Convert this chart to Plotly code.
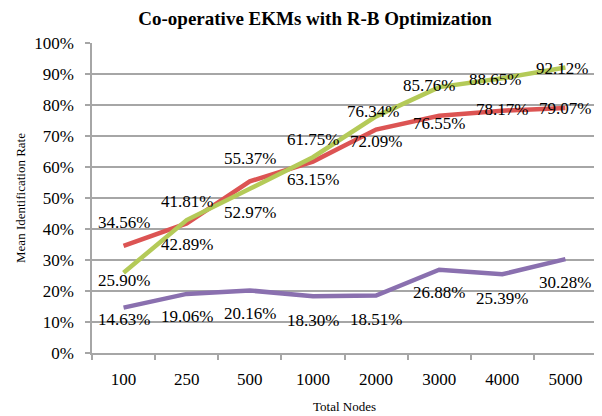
"""Co-operative EKMs with R-B Optimization: mean identification rate by node count"""
import plotly.graph_objects as go

NODES = ["100", "250", "500", "1000", "2000", "3000", "4000", "5000"]
RED_RATE = [34.56, 41.81, 55.37, 61.75, 72.09, 76.55, 78.17, 79.07]
GREEN_RATE = [25.90, 42.89, 52.97, 63.15, 76.34, 85.76, 88.65, 92.12]
PURPLE_RATE = [14.63, 19.06, 20.16, 18.30, 18.51, 26.88, 25.39, 30.28]

# pixel offsets of the data labels (Excel-style placement)
RED_SHIFT = [23, 22, 23, 22, -12, -8, 1, -1]
GREEN_SHIFT = [-8, -24, -24, -22, 5, 2, -1, -1]
PURPLE_SHIFT = [-12, -23, -23, -24, -24, -23, -24, -23]
NO_XSHIFT = [0] * 8
GREEN_XSHIFT = [0, 0, 0, 0, -3, -10, -7, -3]

SERIES = [
    (RED_RATE, RED_SHIFT, NO_XSHIFT, "#DC5453"),
    (GREEN_RATE, GREEN_SHIFT, GREEN_XSHIFT, "#B4CA58"),
    (PURPLE_RATE, PURPLE_SHIFT, NO_XSHIFT, "#8A70AF"),
]

FONT = "Liberation Serif"
GRID = "#A6A6A6"

fig = go.Figure()
annotations = []
for values, shifts, xshifts, color in SERIES:
    ys = [v / 100 for v in values]
    fig.add_trace(
        go.Scatter(
            x=NODES, y=ys, mode="lines",
            line=dict(color=color, width=4.5), showlegend=False,
        )
    )
    # category axis: place labels by category index
    for i, (y, v, s, xs) in enumerate(zip(ys, values, shifts, xshifts)):
        annotations.append(
            dict(
                x=i, y=y, text=f"{v:.2f}%", showarrow=False, yshift=s, xshift=xs,
                font=dict(family=FONT, size=17, color="black"),
            )
        )

# the page body has an 8px margin, so the figure is drawn 8px smaller
fig.update_layout(
    width=594,
    height=408,
    margin=dict(l=84, r=5, t=35, b=63),
    paper_bgcolor="white",
    plot_bgcolor="white",
    title=dict(
        text="<b>Co-operative EKMs with R-B Optimization</b>",
        x=0.517, xanchor="center", y=0.975, yanchor="middle",
        font=dict(family=FONT, size=19, color="black"),
    ),
    annotations=annotations,
    xaxis=dict(
        type="category",
        range=[-0.5, 7.5],
        automargin=False,
        showgrid=False,
        showline=True, linecolor=GRID, linewidth=1.5,
        ticks="outside", tickson="boundaries", ticklen=5, tickcolor=GRID, tickwidth=1.5,
        ticklabelstandoff=10,
        tickfont=dict(family=FONT, size=17, color="black"),
        title=dict(text="Total Nodes", font=dict(family=FONT, size=13, color="black"), standoff=14),
    ),
    yaxis=dict(
        range=[0, 1],
        dtick=0.1,
        tickformat=".0%",
        automargin=False,
        showgrid=True, gridcolor=GRID, gridwidth=1.5,
        showline=True, linecolor=GRID, linewidth=1.5,
        ticks="outside", ticklen=5, tickcolor=GRID, tickwidth=1.5,
        ticklabelstandoff=8,
        tickfont=dict(family=FONT, size=17, color="black"),
        zeroline=False,
        title=dict(text="Mean Identification Rate", font=dict(family=FONT, size=13, color="black"), standoff=6),
    ),
)

fig.write_html("out.html")
